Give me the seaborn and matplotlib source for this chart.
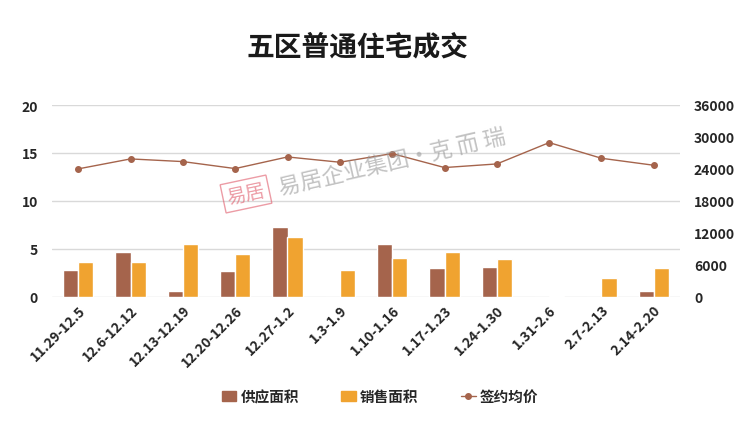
import numpy as np
import pandas as pd
import seaborn as sns
import matplotlib.pyplot as plt
from matplotlib.patches import Patch
from matplotlib.lines import Line2D

weeks = ["11.29-12.5", "12.6-12.12", "12.13-12.19", "12.20-12.26", "12.27-1.2", "1.3-1.9",
         "1.10-1.16", "1.17-1.23", "1.24-1.30", "1.31-2.6", "2.7-2.13", "2.14-2.20"]
supply = [2.84, 4.71, 0.66, 2.74, 7.31, 0.0, 5.55, 3.05, 3.15, 0.0, 0.0, 0.66]
sales = [3.67, 3.67, 5.55, 4.50, 6.27, 2.84, 4.09, 4.71, 3.99, 0.14, 2.00, 3.05]
price = [24020, 25890, 25390, 24080, 26260, 25270, 26890, 24270, 24950, 28950, 26010, 24700]

c_supply = "#A5644C"
c_sales = "#F0A330"

sns.set_style("white")
plt.rcParams["font.family"] = ["Noto Sans CJK SC", "DejaVu Sans"]

df = pd.DataFrame({
    "week": weeks * 2,
    "value": supply + sales,
    "kind": ["供应面积"] * len(weeks) + ["销售面积"] * len(weeks),
})

fig = plt.figure(figsize=(7.46, 4.35), dpi=100)
ax = fig.add_axes([52 / 746, 1 - 298 / 435, (680 - 52) / 746, (298 - 106) / 435])

sns.barplot(data=df, x="week", y="value", hue="kind", palette=[c_supply, c_sales],
            width=0.58, saturation=1, ax=ax, legend=False)

ax.set_ylim(0, 20)
ax.set_yticks([0, 5, 10, 15, 20])
ax.set_xlim(-0.5, len(weeks) - 0.5)
ax.yaxis.grid(True, color="#d9d9d9", linewidth=1)
ax.set_axisbelow(True)
for s in ax.spines.values():
    s.set_visible(False)
ax.set_xlabel("")
ax.set_ylabel("")
ax.tick_params(axis="both", length=0, labelsize=10)
ax.tick_params(axis="y", pad=10)
ax.tick_params(axis="x", pad=4)
plt.setp(ax.get_xticklabels(), rotation=45, ha="right", rotation_mode="anchor", fontweight="bold")
plt.setp(ax.get_yticklabels(), fontweight="bold")

ax2 = ax.twinx()
ax2.plot(range(len(weeks)), price, color=c_supply, linewidth=1, marker="o", markersize=4)
ax2.set_ylim(0, 36000)
ax2.set_yticks(np.arange(0, 36001, 6000))
for s in ax2.spines.values():
    s.set_visible(False)
ax2.tick_params(axis="y", length=0, labelsize=10, pad=10)
plt.setp(ax2.get_yticklabels(), fontweight="bold")

fig.text(358 / 746, 1 - 47 / 435, "五区普通住宅成交", ha="center", va="center",
         fontsize=20, fontweight="bold", color="#1a1a1a")

# watermark
fig.text(246 / 746, 1 - 195 / 435, "易居", rotation=12, fontsize=14, color="#e05a6a", alpha=0.6,
         ha="center", va="center",
         bbox=dict(boxstyle="square,pad=0.2", fc="none", ec="#e05a6a", alpha=0.6))
fig.text(392 / 746, 1 - 163 / 435, "易居企业集团·克 而 瑞", rotation=13, fontsize=16, color="#9a9a9a",
         alpha=0.6, ha="center", va="center")

handles = [Patch(color=c_supply, label="供应面积"),
           Patch(color=c_sales, label="销售面积"),
           Line2D([], [], color=c_supply, marker="o", markersize=4, linewidth=1, label="签约均价")]
leg = fig.legend(handles=handles, loc="center", bbox_to_anchor=(380 / 746, 1 - 397 / 435), ncol=3,
                 frameon=False, fontsize=10.5, handlelength=1.0, columnspacing=2.9, handletextpad=0.3)
for t in leg.get_texts():
    t.set_fontweight("bold")

fig.savefig("out.png", dpi=100)
